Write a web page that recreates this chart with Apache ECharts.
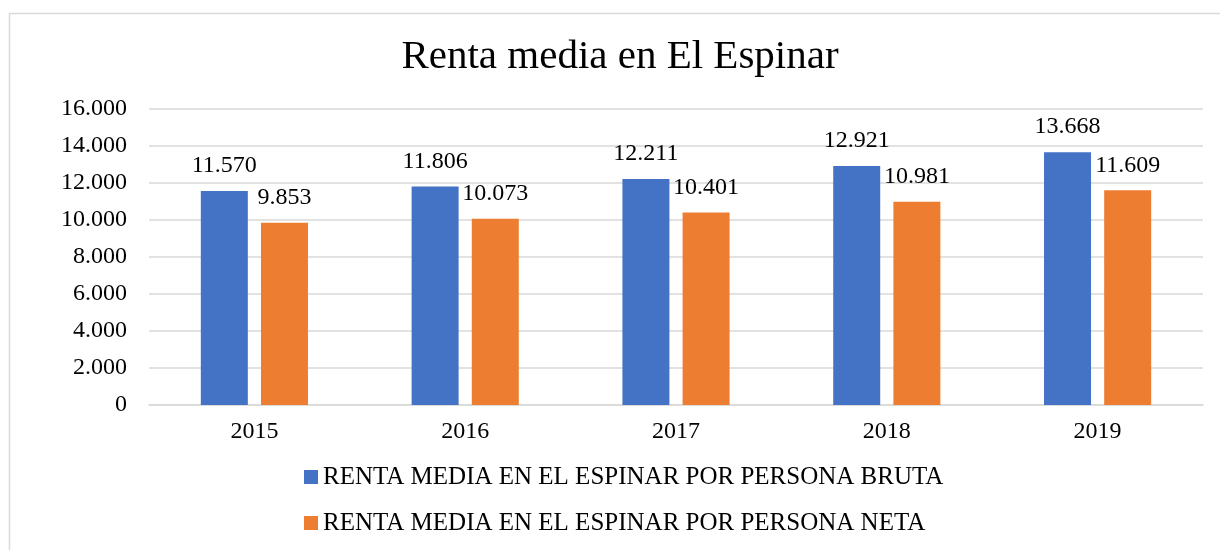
<!DOCTYPE html>
<html>
<head>
<meta charset="utf-8">
<script src="https://cdn.jsdelivr.net/npm/echarts@6/dist/echarts.min.js"></script>
<style>
html,body{margin:0;padding:0;background:#fff;}
#c{width:1220px;height:550px;}
</style>
</head>
<body>
<div id="c"></div>
<script>
const categories = ['2015', '2016', '2017', '2018', '2019'];
const brutaValues = [11570, 11806, 12211, 12921, 13668];
const netaValues = [9853, 10073, 10401, 10981, 11609];
const seriesNames = ['RENTA MEDIA EN EL ESPINAR POR PERSONA BRUTA', 'RENTA MEDIA EN EL ESPINAR POR PERSONA NETA'];
const titleText = 'Renta media en El Espinar';

const FONT = '"Liberation Serif", "DejaVu Serif", serif';
function fmt(v) {
  return String(v).replace(/\B(?=(\d{3})+(?!\d))/g, '.');
}

const chart = echarts.init(document.getElementById('c'), null, {renderer: 'canvas'});
const labelCfg = {
  show: true, position: 'top', distance: 13,
  color: '#000', fontFamily: FONT, fontSize: 24,
  formatter: p => fmt(p.value)
};
chart.setOption({
  animation: false,
  backgroundColor: '#fff',
  graphic: [{
    type: 'rect', silent: true, z: -1,
    shape: {x: 9.5, y: 13.5, width: 1230, height: 560},
    style: {fill: 'none', stroke: '#D9D9D9', lineWidth: 1.5}
  }],
  title: {
    text: titleText, left: 615, textAlign: 'center', top: 32,
    textStyle: {fontFamily: FONT, fontSize: 41, fontWeight: 'normal', color: '#000'}
  },
  legend: {
    orient: 'vertical', left: 299, top: 459,
    itemWidth: 14, itemHeight: 14, itemGap: 20, icon: 'rect',
    textStyle: {fontFamily: FONT, fontSize: 25, color: '#000', lineHeight: 26},
    data: seriesNames
  },
  grid: {left: 149, right: 17, top: 109, bottom: 145},
  xAxis: {
    type: 'category', data: categories,
    axisLine: {lineStyle: {color: '#D9D9D9', width: 1.5}},
    axisTick: {show: false},
    axisLabel: {color: '#000', fontFamily: FONT, fontSize: 24, margin: 15}
  },
  yAxis: {
    type: 'value', min: 0, max: 16000, interval: 2000,
    axisLine: {show: false}, axisTick: {show: false},
    splitLine: {lineStyle: {color: '#D9D9D9', width: 1.5}},
    axisLabel: {color: '#000', fontFamily: FONT, fontSize: 24, margin: 22, formatter: v => fmt(v)}
  },
  series: [{
    name: seriesNames[0], type: 'bar', data: brutaValues,
    barWidth: 47, barGap: '28%',
    itemStyle: {color: '#4472C4'}, label: labelCfg
  }, {
    name: seriesNames[1], type: 'bar', data: netaValues,
    barWidth: 47,
    itemStyle: {color: '#ED7D31'}, label: labelCfg
  }]
});
</script>
</body>
</html>
